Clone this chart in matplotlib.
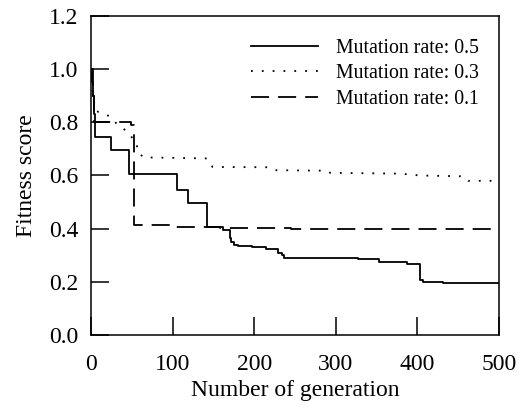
import matplotlib
matplotlib.use('Agg')
import matplotlib.pyplot as plt

plt.rcParams['font.family'] = ['Liberation Serif', 'DejaVu Serif']

# fitness curves for three mutation rates (generation, score)
gen_05 = [0, 1, 3, 4, 5, 25, 47, 106, 119, 142, 162, 170, 172, 175, 180, 197, 215, 229, 234, 237, 327, 353, 387, 403, 407, 431, 500]
fit_05 = [0.99, 0.95, 0.90, 0.83, 0.745, 0.695, 0.604, 0.546, 0.496, 0.406, 0.397, 0.364, 0.350, 0.340, 0.336, 0.331,
          0.324, 0.308, 0.300, 0.292, 0.287, 0.277, 0.269, 0.207, 0.200, 0.196, 0.196]

gen_03 = [0, 2, 5, 9, 15, 22, 33, 39, 47, 52, 56, 57, 64, 142, 149, 215, 223, 289, 293, 379, 403, 456, 462, 500]
fit_03 = [1.0, 0.92, 0.85, 0.838, 0.833, 0.823, 0.79, 0.777, 0.758, 0.733, 0.72, 0.692, 0.668, 0.664, 0.632, 0.631,
          0.62, 0.618, 0.61, 0.607, 0.60, 0.597, 0.58, 0.58]

gen_01 = [0, 2, 4, 49, 53, 100, 158, 245, 500]
fit_01 = [1.0, 0.9, 0.80, 0.79, 0.414, 0.408, 0.402, 0.398, 0.398]

labels = ['Mutation rate: 0.5', 'Mutation rate: 0.3', 'Mutation rate: 0.1']
x_ticks = [0, 100, 200, 300, 400, 500]
y_ticks = [0.0, 0.2, 0.4, 0.6, 0.8, 1.0, 1.2]

fig = plt.figure(figsize=(5.19, 4.07), dpi=100)
ax = fig.add_axes([0.1753, 0.1757, 0.7862, 0.7862])

ax.plot(gen_05, fit_05, color='black', lw=1.3, drawstyle='steps-post', label=labels[0])
ax.plot(gen_03, fit_03, color='black', lw=1.3, linestyle=(0, (1, 5)), label=labels[1])
ax.plot(gen_01, fit_01, color='black', lw=1.3, linestyle=(0, (10, 5)), drawstyle='steps-post', label=labels[2])

ax.set_xlim(0, 500)
ax.set_ylim(0, 1.2)
ax.set_xticks(x_ticks)
ax.set_yticks(y_ticks)
ax.set_yticklabels([f'{v:.1f}' for v in y_ticks])
ax.tick_params(direction='in', length=13, width=1.1, labelsize=17)
ax.tick_params(axis='y', pad=9)
ax.tick_params(axis='x', pad=13)
for s in ax.spines.values():
    s.set_linewidth(1.1)

ax.set_xlabel('Number of generation', fontsize=17, labelpad=4)
ax.set_ylabel('Fitness score', fontsize=17, labelpad=9)

ax.legend(loc='upper right', bbox_to_anchor=(1.0, 0.99), frameon=False, fontsize=14.3,
          handlelength=3.4, handletextpad=0.9, labelspacing=0.33, borderaxespad=0.6)

fig.savefig('out.png', dpi=100)
